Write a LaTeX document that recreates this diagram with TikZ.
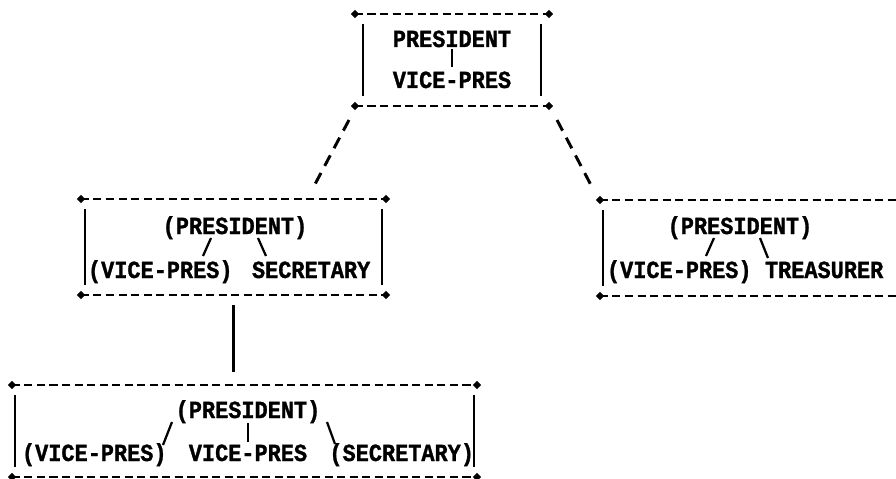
\documentclass[tikz,border=0pt]{standalone}
\usepackage{fontspec}
\setmonofont{Liberation Mono}[FakeStretch=0.89, BoldFeatures={FakeBold=1.2}]
\usetikzlibrary{shapes.geometric}

\tikzset{
  box/.style={rectangle, draw=none, inner sep=0pt, outer sep=0pt},
  word/.style={inner sep=0pt, outer sep=0pt,
    font=\ttfamily\bfseries\fontsize{17.5}{20}\selectfont},
  corner/.style={diamond, fill, inner sep=0pt, minimum size=6pt},
  edge/.style={line width=2pt, dash pattern=on 5.7pt off 3.2pt},
  side/.style={line width=2pt},
  tick/.style={line width=1.6pt},
  link/.style={line width=2.1pt, dash pattern=on 8.5pt off 5.7pt},
  stem/.style={line width=2.2pt}
}

\newcommand{\orgframe}[2]{%
  \draw[edge] (#1.north west) -- (#1.north east);
  \draw[edge] (#1.south west) -- (#1.south east);
  \draw[side] ([shift={(#2,10)}]#1.north west) -- ([shift={(#2,-10)}]#1.south west);
  \draw[side] ([shift={(-#2,10)}]#1.north east) -- ([shift={(-#2,-10)}]#1.south east);
  \foreach \c in {north west,north east,south west,south east}
    \node[corner] at (#1.\c) {};
}

\begin{document}
\begin{tikzpicture}[x=0.025cm, y=-0.025cm]
\useasboundingbox (0,0) rectangle (896,479);

\node[box, minimum width=4.85cm, minimum height=2.3cm] (top) at (452,60) {};
\node[box, minimum width=7.625cm, minimum height=2.4cm] (midL) at (233.5,247) {};
\node[box, minimum width=8cm, minimum height=2.4cm] (midR) at (760,248) {};
\node[box, minimum width=11.625cm, minimum height=2.3cm] (bot) at (244.5,431) {};

\orgframe{top}{8}
\orgframe{midL}{4}
\orgframe{midR}{3}
\orgframe{bot}{3}

\node[word, anchor=base] (pT) at (452,47) {PRESIDENT};
\node[word, anchor=base] (vT) at (452,88) {VICE-PRES};

\node[word, anchor=base] (pL) at (235,234) {(PRESIDENT)};
\node[word, anchor=base west] (vL) at (88,278) {(VICE-PRES)};
\node[word, anchor=base west] (sL) at (252,278) {SECRETARY};

\node[word, anchor=base] (pR) at (740,234) {(PRESIDENT)};
\node[word, anchor=base west] (vR) at (607,278) {(VICE-PRES)};
\node[word, anchor=base west] (tR) at (765,278) {TREASURER};

\node[word, anchor=base] (pB) at (248,418) {(PRESIDENT)};
\node[word, anchor=base west] (vB) at (22,461) {(VICE-PRES)};
\node[word, anchor=base] (wB) at (248,461) {VICE-PRES};
\node[word, anchor=base east] (sB) at (474,461) {(SECRETARY)};

\draw[tick, shorten <=1.5pt, shorten >=3pt] (pT.south) -- (vT.north);
\draw[tick] ([shift={(-24,4)}]pL.base) -- ++(-8,18);
\draw[tick] ([shift={(23,4)}]pL.base) -- ++(8,18);
\draw[tick] ([shift={(-26,4)}]pR.base) -- ++(-8,18);
\draw[tick] ([shift={(20,4)}]pR.base) -- ++(8,20);
\draw[tick] ([shift={(-76,4)}]pB.base) -- ++(-9,23);
\draw[tick, shorten >=2pt] (pB.south) -- (wB.north);
\draw[tick] ([shift={(79,4)}]pB.base) -- ++(8,22);

\draw[link] ([shift={(-6,14)}]top.south west) -- ([shift={(79.5,-11)}]midL.north);
\draw[link] ([shift={(8,14)}]top.south east) -- ([shift={(-8,-13)}]midR.north west);
\draw[stem, shorten <=7pt, shorten >=9pt] (midL.south) -- (midL.south |- bot.north);
\end{tikzpicture}
\end{document}
